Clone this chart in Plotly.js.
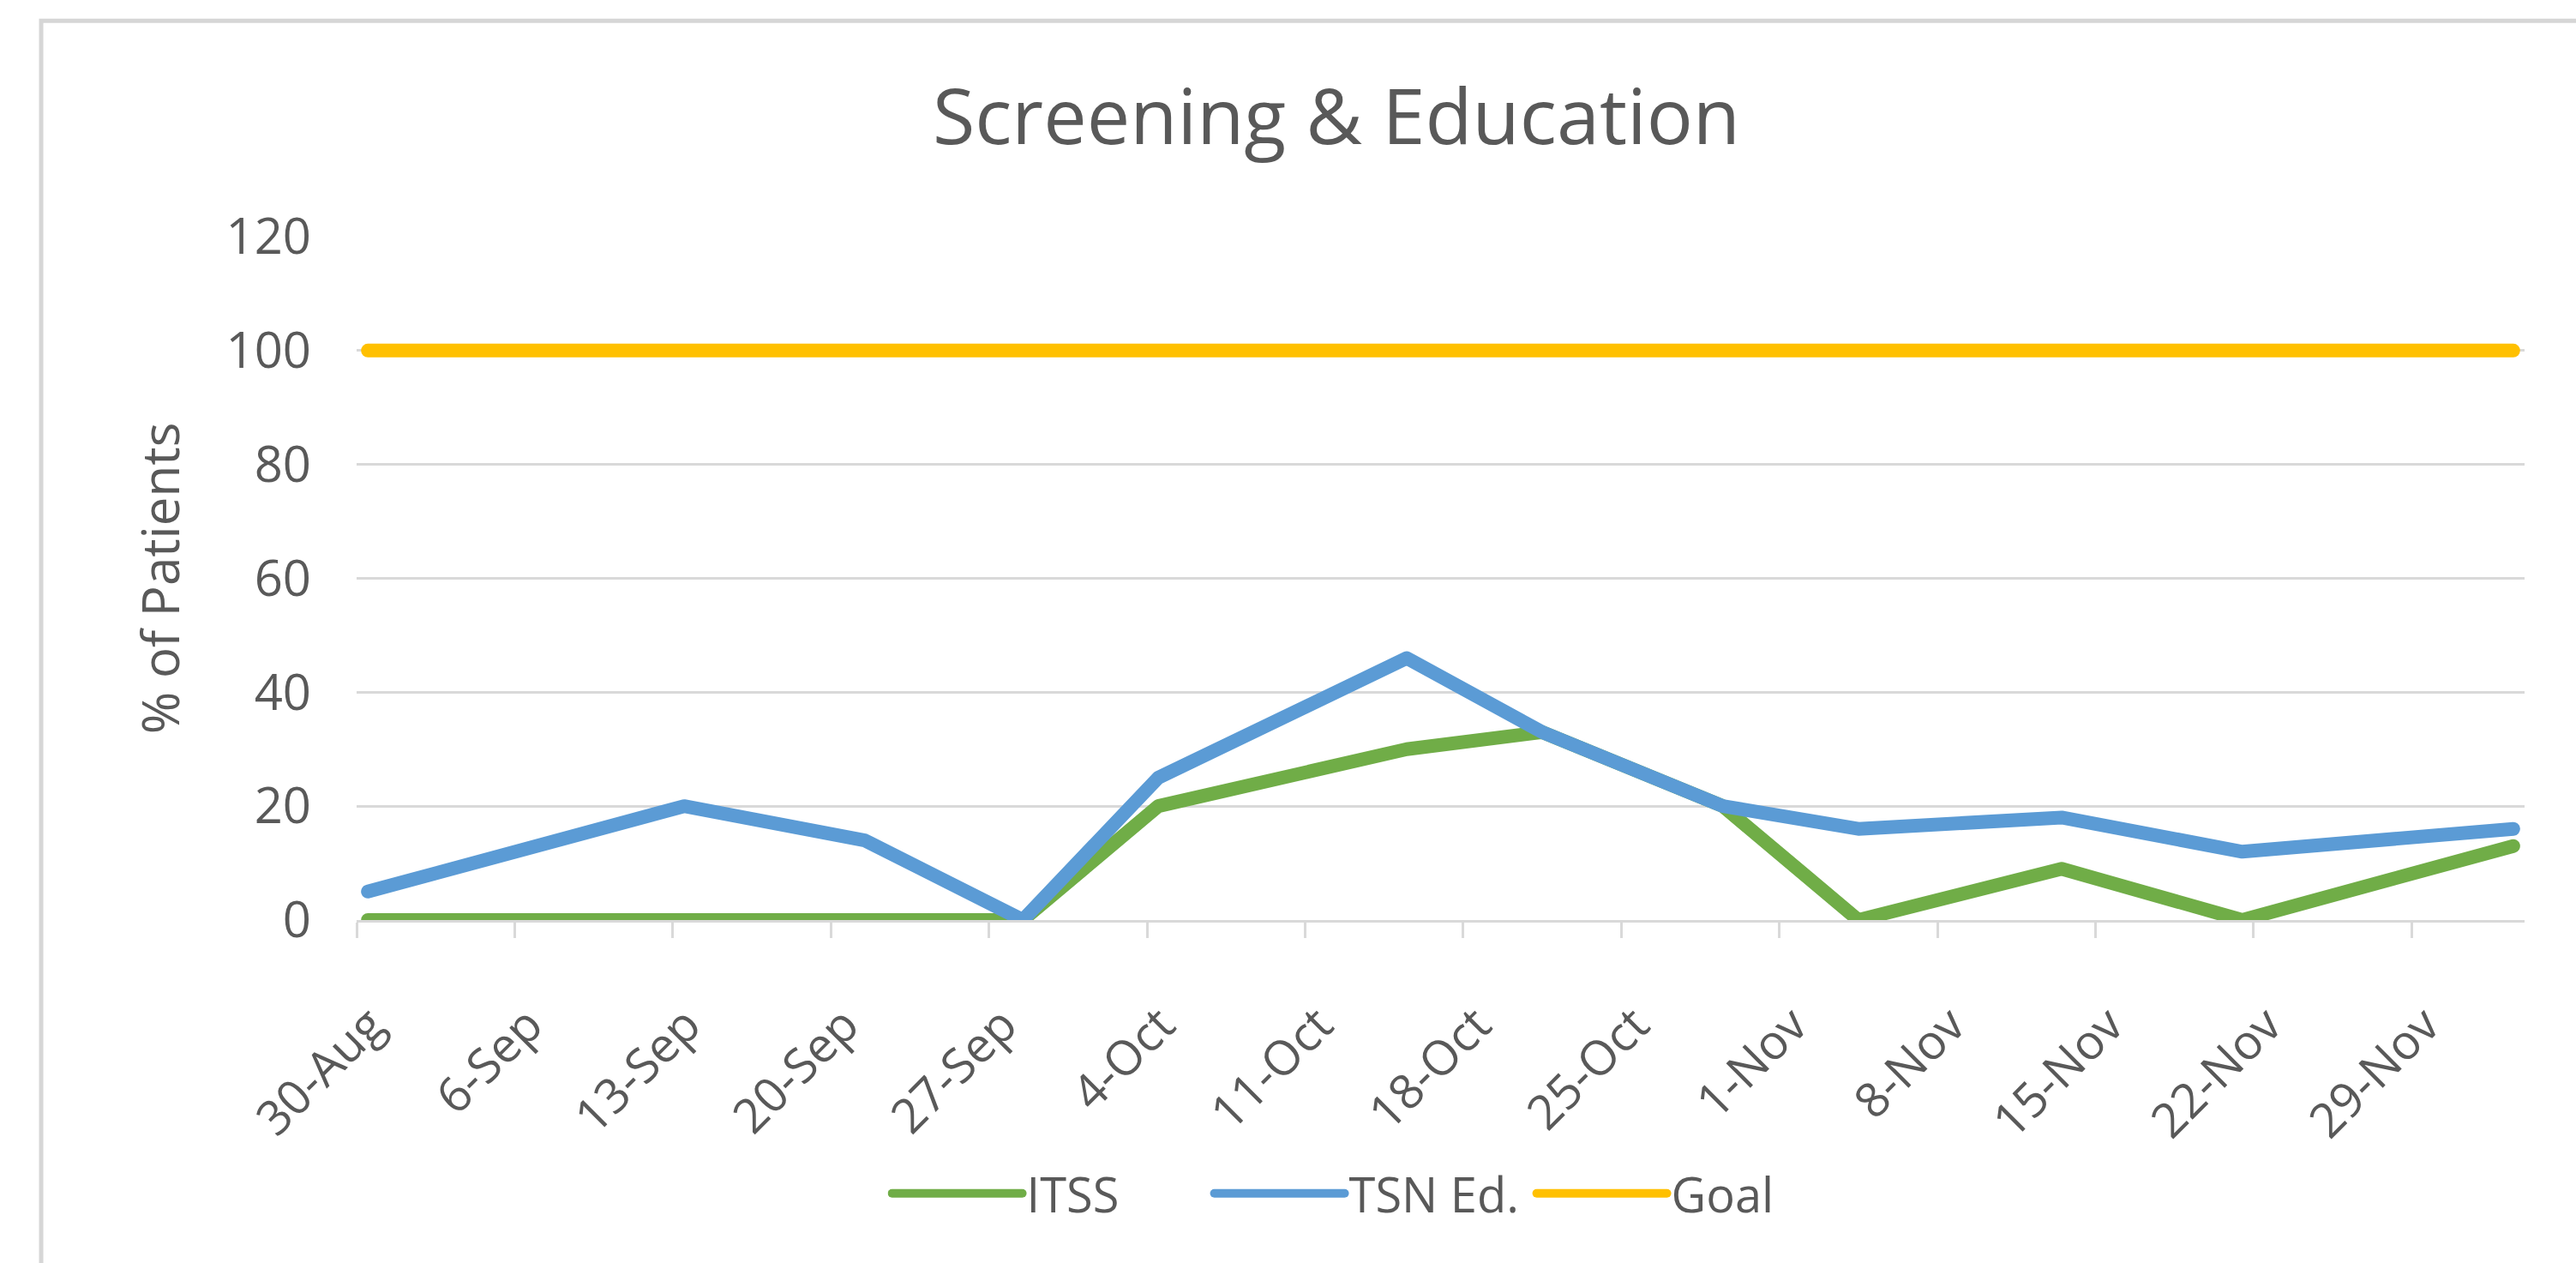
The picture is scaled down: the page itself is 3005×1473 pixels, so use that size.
<!DOCTYPE html>
<html>
<head>
<meta charset="utf-8">
<script src="https://cdn.plot.ly/plotly-3.0.1.min.js"></script>
<style>
  html, body { margin: 0; padding: 0; background: #ffffff; }
  #chart { width: 3005px; height: 1473px; }
  .scatterlayer path.js-line { stroke-linecap: round; stroke-linejoin: round; }
  .legend path.js-line { stroke-linecap: round; }
</style>
</head>
<body>
<div id="chart"></div>
<script>
// ---- data ----
const dates = ['2021-08-30', '2021-09-13', '2021-09-21', '2021-09-28', '2021-10-04', '2021-10-15',
               '2021-10-21', '2021-10-29', '2021-11-04', '2021-11-13', '2021-11-21', '2021-12-03'];
const itss  = [0, 0, 0, 0, 20, 30, 33, 20, 0, 9, 0, 13];
const tsnEd = [5, 20, 14, 0, 25, 46, 33, 20, 16, 18, 12, 16];
const goal  = [100, 100, 100, 100, 100, 100, 100, 100, 100, 100, 100, 100];
const seriesNames = ['ITSS', 'TSN Ed.', 'Goal'];
const tickDates = ['2021-08-30', '2021-09-06', '2021-09-13', '2021-09-20', '2021-09-27', '2021-10-04',
                   '2021-10-11', '2021-10-18', '2021-10-25', '2021-11-01', '2021-11-08', '2021-11-15',
                   '2021-11-22', '2021-11-29'];
const xRange = ['2021-08-30', '2021-12-04'];
const yTicks = [0, 20, 40, 60, 80, 100, 120];
const chartTitle = 'Screening &amp; Education';
const yTitle = '% of Patients';

const colors = ['#70AD47', '#5B9BD5', '#FFC000'];
const values = [itss, tsnEd, goal];
const DAY = 86400000;

const traces = values.map((v, i) => ({
  type: 'scatter',
  mode: 'lines',
  x: dates,
  y: v,
  name: seriesNames[i],
  xperiod: DAY,
  xperiodalignment: 'middle',
  line: { color: colors[i], width: 16 },
  hoverinfo: 'x+y+name'
}));

const textColor = '#595959';
const gridColor = '#d9d9d9';
const fontFamily = '"Open Sans", "Noto Sans", sans-serif';

const layout = {
  width: 3005,
  height: 1473,
  margin: { l: 416, r: 60, t: 276, b: 400 },
  paper_bgcolor: '#ffffff',
  plot_bgcolor: '#ffffff',
  font: { family: fontFamily, color: textColor, size: 58 },
  title: {
    text: chartTitle,
    font: { family: fontFamily, size: 90, color: textColor },
    xref: 'container', x: 0.5188, xanchor: 'center',
    yref: 'container', y: 0.907, yanchor: 'middle'
  },
  xaxis: {
    type: 'date',
    range: xRange,
    tickmode: 'array',
    tickvals: tickDates,
    tickformat: '%-d-%b',
    tickangle: -45,
    ticks: 'outside',
    ticklen: 18,
    tickwidth: 3,
    tickcolor: gridColor,
    showline: true,
    linecolor: gridColor,
    linewidth: 3,
    showgrid: false,
    zeroline: false,
    ticklabelshift: 16,
    ticklabelstandoff: 46,
    tickfont: { size: 56, color: textColor }
  },
  yaxis: {
    range: [0, 120],
    tickmode: 'array',
    tickvals: yTicks,
    showgrid: true,
    gridcolor: gridColor,
    gridwidth: 3,
    zeroline: false,
    showline: false,
    ticks: '',
    ticklabelstandoff: 52,
    tickfont: { size: 58, color: textColor },
    title: { text: yTitle, font: { size: 60, color: textColor }, standoff: 34 }
  },
  showlegend: true,
  legend: {
    orientation: 'h',
    x: 0.468, xanchor: 'center',
    y: -0.4, yanchor: 'middle',
    font: { size: 56, color: textColor },
    itemwidth: 152,
    entrywidth: 209,
    entrywidthmode: 'pixels',
    traceorder: 'normal',
    bgcolor: 'rgba(0,0,0,0)'
  },
  shapes: [{
    type: 'rect', xref: 'paper', yref: 'paper',
    x0: -0.1455, x1: 1.2, y0: -0.7, y1: 1.316,
    line: { color: '#d6d6d6', width: 5 },
    fillcolor: 'rgba(0,0,0,0)',
    layer: 'below'
  }]
};

Plotly.newPlot('chart', traces, layout, { staticPlot: true, displayModeBar: false }).then(gd => {
  // let thick lines at the plot edges show fully, as in the original
  gd.querySelectorAll('.scatterlayer .js-line').forEach(p => p.removeAttribute('clip-path'));
  gd.querySelectorAll('.scatterlayer .trace').forEach(t => t.removeAttribute('clip-path'));
  gd.querySelectorAll('g.plot').forEach(g => g.removeAttribute('clip-path'));
});
</script>
</body>
</html>
